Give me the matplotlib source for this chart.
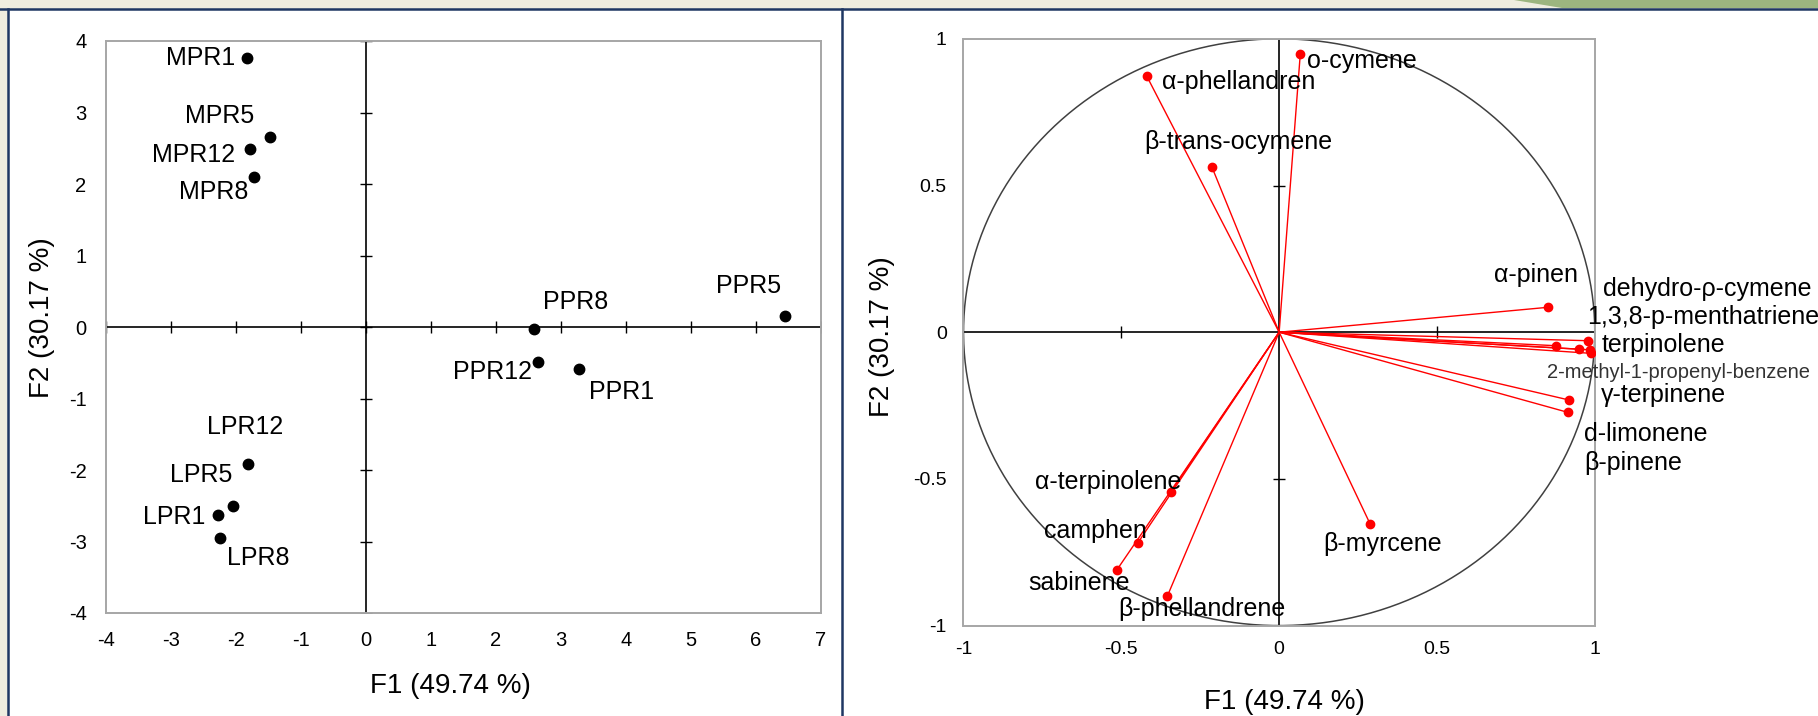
import numpy as np
import matplotlib.pyplot as plt
from matplotlib.patches import Rectangle, Polygon

plt.rcParams['font.family'] = ['Liberation Sans', 'DejaVu Sans']
plt.rcParams['axes.unicode_minus'] = False

# ---- observations (left panel) ----
obs_names = ['MPR1', 'MPR5', 'MPR12', 'MPR8', 'PPR5', 'PPR8', 'PPR12', 'PPR1',
             'LPR12', 'LPR5', 'LPR1', 'LPR8']
obs_f1 = [-1.83, -1.48, -1.79, -1.72, 6.44, 2.59, 2.65, 3.28, -1.82, -2.05, -2.28, -2.25]
obs_f2 = [3.76, 2.66, 2.49, 2.10, 0.16, -0.03, -0.49, -0.59, -1.92, -2.50, -2.63, -2.95]

# ---- variables (right panel, correlation circle) ----
var_names = ['o-cymene', 'α-phellandren', 'β-trans-ocymene', 'α-pinen',
             'dehydro-ρ-cymene', '1,3,8-p-menthatriene', 'terpinolene',
             '2-methyl-1-propenyl-benzene', 'γ-terpinene', 'd-limonene', 'β-pinene',
             'α-terpinolene', 'camphen', 'sabinene', 'β-phellandrene', 'β-myrcene']
var_f1 = [0.067, -0.420, -0.213, 0.853, 0.977, 0.985, 0.987, 0.876, 0.951, 0.918, 0.914,
          -0.344, -0.447, -0.514, -0.354, 0.288]
var_f2 = [0.949, 0.874, 0.563, 0.085, -0.029, -0.060, -0.072, -0.046, -0.058, -0.231, -0.273,
          -0.545, -0.717, -0.810, -0.899, -0.653]

x_label = 'F1 (49.74 %)'
y_label = 'F2 (30.17 %)'
left_xticks = list(range(-4, 8))
left_yticks = list(range(-4, 5))
right_ticks = [-1, -0.5, 0, 0.5, 1]
right_ticklabels = ['-1', '-0.5', '0', '0.5', '1']

# label placement (pixel offsets from the point, ha)
obs_offsets = [(-12, 0, 'right'), (-16, 21, 'right'), (-15, -6, 'right'), (-6, -15, 'right'),
               (-3, 30, 'right'), (9, 27, 'left'), (-6, -10, 'right'), (10, -23, 'left'),
               (-3, 37, 'center'), (0, 31, 'right'), (-12, -2, 'right'), (7, -20, 'left')]
var_offsets = [(7, -7, 'left'), (15, -6, 'left'), (26, 25, 'center'), (-12, 32, 'center'),
               (15, 52, 'left'), (-3, 33, 'left'), (11, 8, 'left'), (-9, -27, 'left'),
               (22, -46, 'left'), (15, -34, 'left'), (17, -51, 'left'),
               (11, 10, 'right'), (9, 12, 'right'), (13, -13, 'right'),
               (-49, -13, 'left'), (-47, -20, 'left')]

W, H = 1818, 716
fig = plt.figure(figsize=(W / 100, H / 100), dpi=100)
fig.patch.set_facecolor('#efeddf')

# slide background: panels, borders, green strip
bg = fig.add_axes([0, 0, 1, 1], zorder=-5)
bg.axis('off')
bg.add_patch(Rectangle((8, 9), W - 8, H - 9, facecolor='white', edgecolor='none'))
grad = np.linspace(0, 1, 60) ** 2
bg.imshow(np.tile(1 - 0.09 * grad, (10, 1)), cmap='gray', vmin=0, vmax=1,
          extent=(782, 842, H, 9), aspect='auto')
bg.add_patch(Polygon([(1514, 0), (W, 0), (W, 8), (1562, 8)], facecolor='#9cb57f', edgecolor='none'))
bg.plot([0, W], [9, 9], color='#1f3763', lw=1.8)
bg.plot([8, 8], [9, H], color='#1f3763', lw=1.8)
bg.plot([842, 842], [9, H], color='#1f3763', lw=1.8)
bg.set_xlim(0, W)
bg.set_ylim(H, 0)


def style_axes(ax):
    for s in ax.spines.values():
        s.set_color('#a6a6a6')
        s.set_linewidth(1.4)
    ax.set_facecolor('none')
    ax.axhline(0, color='black', lw=1.2, zorder=1)
    ax.axvline(0, color='black', lw=1.2, zorder=1)


# ---- left: observations ----
ax1 = fig.add_axes([106 / W, 1 - 613 / H, 715 / W, 572 / H])
style_axes(ax1)
ax1.set_xlim(-4, 7)
ax1.set_ylim(-4, 4)
ax1.plot(left_xticks, [0] * len(left_xticks), ls='none', marker='|', ms=9, mew=1, color='k')
ax1.plot([0] * len(left_yticks), left_yticks, ls='none', marker='_', ms=9, mew=1, color='k')
ax1.plot(obs_f1, obs_f2, 'o', color='black', ms=7.5, zorder=3)
for name, x, y, (dx, dy, ha) in zip(obs_names, obs_f1, obs_f2, obs_offsets):
    ax1.annotate(name, (x, y), xytext=(dx, dy), textcoords='offset pixels',
                 ha=ha, va='center', fontsize=18)
ax1.set_xticks(left_xticks)
ax1.set_yticks(left_yticks)
ax1.tick_params(length=0, labelsize=14.5)
ax1.tick_params(axis='x', pad=13)
ax1.tick_params(axis='y', pad=14)
fig.text(450 / W, 1 - 686 / H, x_label, ha='center', va='center', fontsize=20)
fig.text(42 / W, 1 - 318 / H, y_label, ha='center', va='center', fontsize=20, rotation=90)

# ---- right: correlation circle ----
ax2 = fig.add_axes([963.5 / W, 1 - 625.6 / H, 631.3 / W, 586.8 / H])
style_axes(ax2)
ax2.set_xlim(-1, 1)
ax2.set_ylim(-1, 1)
t = np.linspace(0, 2 * np.pi, 400)
ax2.plot(np.cos(t), np.sin(t), color='#404040', lw=1.1, zorder=2)
ax2.plot([-0.5, 0.5], [0, 0], ls='none', marker='|', ms=9, mew=1, color='k')
ax2.plot([0, 0], [-0.5, 0.5], ls='none', marker='_', ms=9, mew=1, color='k')
for x, y in zip(var_f1, var_f2):
    ax2.plot([0, x], [0, y], color='red', lw=1, zorder=3)
ax2.plot(var_f1, var_f2, 'o', color='red', ms=6, zorder=4)
for name, x, y, (dx, dy, ha) in zip(var_names, var_f1, var_f2, var_offsets):
    small = name.startswith('2-methyl')
    ax2.annotate(name, (x, y), xytext=(dx, dy), textcoords='offset pixels',
                 ha=ha, va='center', fontsize=14.5 if small else 18,
                 color='#333333' if small else 'black', zorder=5, annotation_clip=False)
ax2.set_xticks(right_ticks)
ax2.set_xticklabels(right_ticklabels)
ax2.set_yticks(right_ticks)
ax2.set_yticklabels(right_ticklabels)
ax2.tick_params(length=0, labelsize=14)
ax2.tick_params(axis='x', pad=11)
ax2.tick_params(axis='y', pad=12)
fig.text(1284 / W, 1 - 702 / H, x_label, ha='center', va='center', fontsize=20)
fig.text(882 / W, 1 - 337 / H, y_label, ha='center', va='center', fontsize=20, rotation=90)

fig.savefig('out.png', dpi=100, facecolor=fig.get_facecolor())
